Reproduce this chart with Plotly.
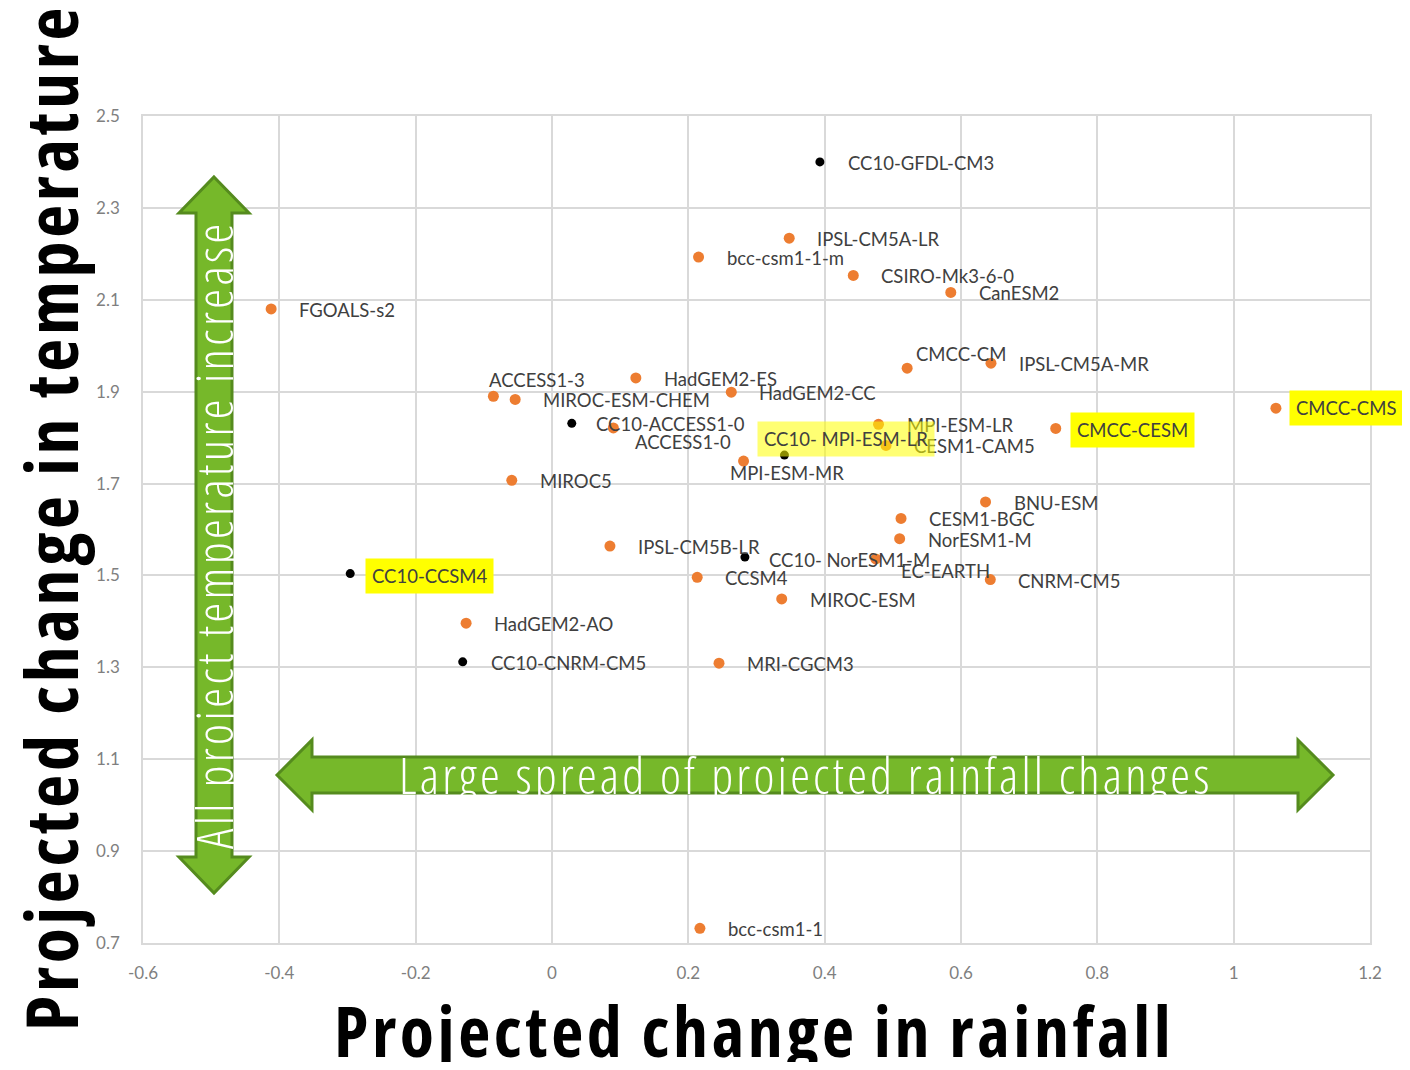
import plotly.graph_objects as go

# ---------------- data ----------------
cmip_models = ["IPSL-CM5A-LR", "bcc-csm1-1-m", "CSIRO-Mk3-6-0", "CanESM2", "FGOALS-s2",
               "CMCC-CM", "IPSL-CM5A-MR", "HadGEM2-ES", "HadGEM2-CC", "ACCESS1-3",
               "MIROC-ESM-CHEM", "ACCESS1-0", "MPI-ESM-LR", "CESM1-CAM5", "CMCC-CESM",
               "CMCC-CMS", "MPI-ESM-MR", "MIROC5", "BNU-ESM", "CESM1-BGC",
               "NorESM1-M", "IPSL-CM5B-LR", "EC-EARTH", "CCSM4", "CNRM-CM5",
               "MIROC-ESM", "HadGEM2-AO", "MRI-CGCM3", "bcc-csm1-1"]
cmip_rain = [0.348, 0.215, 0.442, 0.585, -0.412,
             0.521, 0.644, 0.123, 0.263, -0.086,
             -0.054, 0.090, 0.479, 0.490, 0.739,
             1.062, 0.281, -0.059, 0.636, 0.512,
             0.510, 0.085, 0.475, 0.213, 0.643,
             0.337, -0.126, 0.245, 0.217]
cmip_temp = [2.234, 2.193, 2.153, 2.116, 2.080,
             1.951, 1.962, 1.930, 1.899, 1.890,
             1.883, 1.821, 1.829, 1.783, 1.820,
             1.864, 1.749, 1.707, 1.660, 1.624,
             1.580, 1.564, 1.536, 1.496, 1.491,
             1.449, 1.396, 1.309, 0.732]

cc10_models = ["CC10-GFDL-CM3", "CC10-ACCESS1-0", "CC10- MPI-ESM-LR",
               "CC10- NorESM1-M", "CC10-CCSM4", "CC10-CNRM-CM5"]
cc10_rain = [0.393, 0.029, 0.341, 0.283, -0.296, -0.131]
cc10_temp = [2.400, 1.831, 1.762, 1.540, 1.504, 1.312]

x_ticks = [-0.6, -0.4, -0.2, 0, 0.2, 0.4, 0.6, 0.8, 1, 1.2]
x_tick_labels = ["-0.6", "-0.4", "-0.2", "0", "0.2", "0.4", "0.6", "0.8", "1", "1.2"]
y_ticks = [0.7, 0.9, 1.1, 1.3, 1.5, 1.7, 1.9, 2.1, 2.3, 2.5]
y_tick_labels = ["0.7", "0.9", "1.1", "1.3", "1.5", "1.7", "1.9", "2.1", "2.3", "2.5"]

highlighted = ["CMCC-CESM", "CMCC-CMS", "CC10-CCSM4", "CC10- MPI-ESM-LR"]

x_title = "Projected change in rainfall"
y_title = "Projected change in temperature"
h_arrow_text = "Large spread of projected rainfall changes"
v_arrow_text = "All project temperature increase"

# ---------------- styling ----------------
ORANGE = "#ED7D31"
LABEL_COLOR = "#404040"
LABEL_FONT = "Lato, 'Open Sans', sans-serif"
TITLE_FONT = "'Open Sans', sans-serif"
ARROW_FONT = "'Open Sans', sans-serif"
TICK_FONT = "Lato, sans-serif"
GREEN = "#76B82A"
GREEN_DARK = "#558B1E"

# label offsets in pixels: (dx to label's left edge, dy down to label centre)
default_offset = (26, 1)
label_offsets = {
    "CMCC-CM": (7, -14),
    "ACCESS1-3": (-6, -16),
    "ACCESS1-0": (20, 14),
    "MPI-ESM-MR": (-16, 12),
    "EC-EARTH": (23, 12),
    "CC10-ACCESS1-0": (22, 1),
    "CC10- NorESM1-M": (22, 3),
    "CMCC-CESM": (14, 2),
    "CMCC-CMS": (13, 0),
    "CC10-CCSM4": (15, 2),
    "CC10- MPI-ESM-LR": (-27, -16),
}

# plot area in page pixels (the page body has an 8px margin)
OFF = 8
L, R, T, B = 143, 1370, 116, 943
W, H = 1410 - 2 * OFF, 1070 - 2 * OFF


def px(xp):
    return (xp - L) / (R - L)


def py(yp):
    return (B - yp) / (B - T)


def styled(s, spacing, weight=None):
    w = f";font-weight:{weight}" if weight else ""
    return f'<span style="font-stretch:75%;letter-spacing:{spacing}px{w}">{s}</span>'


fig = go.Figure()
fig.add_trace(go.Scatter(x=cmip_rain, y=cmip_temp, mode="markers",
                         marker=dict(color=ORANGE, size=11), name="CMIP5",
                         hovertext=cmip_models, showlegend=False))
fig.add_trace(go.Scatter(x=cc10_rain, y=cc10_temp, mode="markers",
                         marker=dict(color="black", size=9), name="CC10",
                         hovertext=cc10_models, showlegend=False))

annotations = []
for names, xs, ys in [(cmip_models, cmip_rain, cmip_temp), (cc10_models, cc10_rain, cc10_temp)]:
    for n, xv, yv in zip(names, xs, ys):
        dx, dy = label_offsets.get(n, default_offset)
        a = dict(x=xv, y=yv, xref="x", yref="y", text=n, showarrow=False,
                 xanchor="left", yanchor="middle", xshift=dx, yshift=-dy,
                 font=dict(family=LABEL_FONT, size=18.5, color=LABEL_COLOR))
        if n in highlighted:
            a["bgcolor"] = "rgba(255,255,0,0.55)" if n.startswith("CC10- MPI") else "#FFFF00"
            a["borderpad"] = 6
        annotations.append(a)

# arrows
cx = 214
v_pts = [(cx, 177), (cx + 35, 213), (cx + 18, 213), (cx + 18, 857), (cx + 35, 857), (cx, 893),
         (cx - 35, 857), (cx - 18, 857), (cx - 18, 213), (cx - 35, 213)]
cy = 775
h_pts = [(277, cy), (312, cy - 35), (312, cy - 18), (1298, cy - 18), (1298, cy - 35), (1333, cy),
         (1298, cy + 35), (1298, cy + 18), (312, cy + 18), (312, cy + 35)]


def path(pts):
    return "M " + " L ".join(f"{px(a):.5f},{py(b):.5f}" for a, b in pts) + " Z"


shapes = [
    dict(type="path", xref="paper", yref="paper", path=path(v_pts),
         fillcolor=GREEN, line=dict(color=GREEN_DARK, width=3), layer="above"),
    dict(type="path", xref="paper", yref="paper", path=path(h_pts),
         fillcolor=GREEN, line=dict(color=GREEN_DARK, width=3), layer="above"),
]

annotations.append(dict(x=px(806), y=py(775), xref="paper", yref="paper",
                        text=styled(h_arrow_text, 3.2, 300),
                        showarrow=False, xanchor="center", yanchor="middle",
                        font=dict(family=ARROW_FONT, size=50, color="white")))
annotations.append(dict(x=px(214), y=py(535), xref="paper", yref="paper",
                        text=styled(v_arrow_text, 3.4, 300),
                        showarrow=False, xanchor="center", yanchor="middle", textangle=-90,
                        font=dict(family=ARROW_FONT, size=50, color="white")))

# axis titles
annotations.append(dict(x=px(754), y=py(1030), xref="paper", yref="paper",
                        text=styled(x_title, 3.6),
                        showarrow=False, xanchor="center", yanchor="middle",
                        font=dict(family=TITLE_FONT, size=70, color="black", weight="bold")))
annotations.append(dict(x=px(50), y=py(518), xref="paper", yref="paper",
                        text=styled(y_title, 3.7),
                        showarrow=False, xanchor="center", yanchor="middle", textangle=-90,
                        font=dict(family=TITLE_FONT, size=72, color="black", weight="bold")))

fig.update_layout(
    width=W, height=H,
    margin=dict(l=L - OFF, r=W - (R - OFF), t=T - OFF, b=H - (B - OFF), pad=0),
    paper_bgcolor="white", plot_bgcolor="white",
    shapes=shapes, annotations=annotations,
    xaxis=dict(range=[-0.6, 1.2], tickvals=x_ticks, ticktext=x_tick_labels,
               showgrid=True, gridcolor="#D9D9D9", gridwidth=1.5, zeroline=False,
               showline=True, linecolor="#D9D9D9", linewidth=1.5, mirror=True,
               ticks="", ticklabelstandoff=14,
               tickfont=dict(family=TICK_FONT, size=17, color="#7F7F7F")),
    yaxis=dict(range=[0.7, 2.5], tickvals=y_ticks, ticktext=y_tick_labels,
               showgrid=True, gridcolor="#D9D9D9", gridwidth=1.5, zeroline=False,
               showline=True, linecolor="#D9D9D9", linewidth=1.5, mirror=True,
               ticks="", ticklabelstandoff=18,
               tickfont=dict(family=TICK_FONT, size=17, color="#7F7F7F")),
)

fig.write_html("out.html")
